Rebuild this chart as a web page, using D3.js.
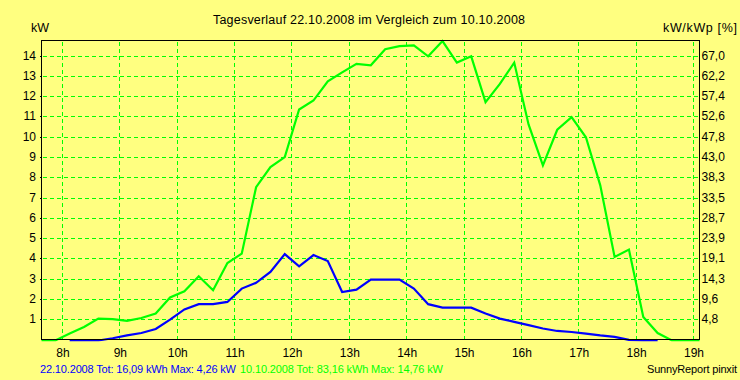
<!DOCTYPE html>
<html>
<head>
<meta charset="utf-8">
<script src="https://cdn.jsdelivr.net/npm/d3@7/dist/d3.min.js"></script>
<style>
  html, body { margin: 0; padding: 0; background: #ffff80; }
  svg { display: block; }
  text { font-family: "Liberation Sans", Arial, sans-serif; }
</style>
</head>
<body>
<script>
// ---- data ----
const times = [7.625, 7.875, 8.125, 8.375, 8.625, 8.875, 9.125, 9.375, 9.625, 9.875,
  10.125, 10.375, 10.625, 10.875, 11.125, 11.375, 11.625, 11.875, 12.125, 12.375,
  12.625, 12.875, 13.125, 13.375, 13.625, 13.875, 14.125, 14.375, 14.625, 14.875,
  15.125, 15.375, 15.625, 15.875, 16.125, 16.375, 16.625, 16.875, 17.125, 17.375,
  17.625, 17.875, 18.125, 18.375, 18.625, 18.875, 19.125];
const series1008 = [0, 0, 0.35, 0.67, 1.08, 1.05, 0.97, 1.11, 1.33, 2.12,
  2.43, 3.17, 2.48, 3.82, 4.28, 7.56, 8.55, 9.04, 11.39, 11.83,
  12.78, 13.22, 13.64, 13.57, 14.36, 14.51, 14.55, 14.01, 14.76, 13.70,
  14.01, 11.75, 12.65, 13.70, 10.65, 8.63, 10.39, 11.01, 10.02, 7.65,
  4.12, 4.48, 1.16, 0.37, 0, 0, 0];
const series2210 = [null, null, 0, 0, 0, 0.11, 0.25, 0.37, 0.57, 1.03,
  1.53, 1.79, 1.79, 1.90, 2.56, 2.84, 3.38, 4.26, 3.66, 4.21,
  3.92, 2.39, 2.51, 3.00, 3.00, 3.00, 2.56, 1.79, 1.62, 1.62,
  1.62, 1.33, 1.08, 0.92, 0.76, 0.59, 0.47, 0.42, 0.34, 0.25,
  0.18, 0.03, 0, 0, null, null, null];
const hourTicks = [8, 9, 10, 11, 12, 13, 14, 15, 16, 17, 18, 19];
const kwTicks = [1, 2, 3, 4, 5, 6, 7, 8, 9, 10, 11, 12, 13, 14];
const pctLabels = ["4,8", "9,6", "14,3", "19,1", "23,9", "28,7", "33,5", "38,3", "43,0",
  "47,8", "52,6", "57,4", "62,2", "67,0"];
const yMax = 14.79;
const titleText = "Tagesverlauf 22.10.2008 im Vergleich zum 10.10.2008";
const legendBlue = "22.10.2008 Tot: 16,09 kWh Max: 4,26 kW";
const legendGreen = "10.10.2008 Tot: 83,16 kWh Max: 14,76 kW";
const creditText = "SunnyReport pinxit";

// ---- layout ----
const W = 740, H = 380;
const L = 41.5, R = 699.5, T = 40.5, B = 339.5;
const GREEN = "#00ff00", BLUE = "#0000ff";

const svg = d3.select("body").append("svg").attr("width", W).attr("height", H);
svg.append("rect").attr("width", W).attr("height", H).attr("fill", "#ffff80");

const x = d3.scaleLinear().domain([7.634, 19.105]).range([L, R]);
const y = d3.scaleLinear().domain([0, yMax]).range([340.5, T]);

svg.append("clipPath").attr("id", "clip")
  .append("rect").attr("x", L).attr("y", T - 2).attr("width", R - L).attr("height", B - T + 4);

// grid
const grid = svg.append("g").attr("stroke", GREEN).attr("stroke-width", 1)
  .attr("stroke-dasharray", "4,3").attr("shape-rendering", "crispEdges");
grid.selectAll("line.h").data(kwTicks).join("line").attr("class", "h")
  .attr("x1", L + 1).attr("x2", R).attr("y1", d => Math.round(y(d)) - 0.5).attr("y2", d => Math.round(y(d)) - 0.5);
grid.selectAll("line.v").data(hourTicks).join("line").attr("class", "v")
  .attr("x1", d => Math.floor(x(d)) + 0.5).attr("x2", d => Math.floor(x(d)) + 0.5)
  .attr("y1", T + 1).attr("y2", B);

// lines
const line = d3.line()
  .defined(d => d[1] !== null)
  .x(d => x(d[0])).y(d => y(d[1]));
const plot = svg.append("g").attr("clip-path", "url(#clip)");
plot.append("path").datum(times.map((t, i) => [t, series1008[i]]))
  .attr("d", line).attr("fill", "none").attr("stroke", GREEN).attr("stroke-width", 2.2)
  .attr("stroke-linejoin", "miter");
plot.append("path").datum(times.map((t, i) => [t, series2210[i]]))
  .attr("d", line).attr("fill", "none").attr("stroke", BLUE).attr("stroke-width", 2.2)
  .attr("stroke-linejoin", "miter");

// frame
svg.append("rect").attr("x", L).attr("y", T).attr("width", R - L).attr("height", B - T)
  .attr("fill", "none").attr("stroke", "#000").attr("stroke-width", 1).attr("shape-rendering", "crispEdges");

// axes
const yTick = d => Math.round(y(d)) - 0.5;
const left = svg.append("g").attr("transform", `translate(${L},0)`)
  .call(d3.axisLeft(y).tickValues(kwTicks).tickSize(2).tickPadding(3.5).tickFormat(d3.format("d")));
const right = svg.append("g").attr("transform", `translate(${R},0)`)
  .call(d3.axisRight(y).tickValues(kwTicks).tickSize(0).tickPadding(2).tickFormat((d, i) => pctLabels[i]));
const bottom = svg.append("g").attr("transform", `translate(0,${B})`)
  .call(d3.axisBottom(x).tickValues(hourTicks).tickSize(0).tickPadding(9).tickFormat(d => d + "h"));
[left, right, bottom].forEach(g => {
  g.select(".domain").remove();
  g.selectAll("text").attr("font-size", 12).attr("fill", "#000")
    .attr("font-family", "'Liberation Sans', Arial, sans-serif");
  g.selectAll("line").attr("stroke", "#000").attr("shape-rendering", "crispEdges");
});
left.selectAll(".tick").attr("transform", d => `translate(0,${yTick(d)})`);
right.selectAll(".tick").attr("transform", d => `translate(0,${yTick(d)})`);

// titles
svg.append("text").attr("x", 213).attr("y", 24)
  .attr("font-size", 12.5).attr("textLength", 312).attr("lengthAdjust", "spacing").text(titleText);
svg.append("text").attr("x", 31).attr("y", 32).attr("font-size", 12.5)
  .attr("textLength", 18).attr("lengthAdjust", "spacing").text("kW");
svg.append("text").attr("x", 663).attr("y", 32)
  .attr("font-size", 12.5).attr("textLength", 74).attr("lengthAdjust", "spacing").text("kW/kWp [%]");

// legend
svg.append("text").attr("x", 40).attr("y", 373).attr("font-size", 11).attr("fill", BLUE)
  .attr("textLength", 196).attr("lengthAdjust", "spacing").text(legendBlue);
svg.append("text").attr("x", 240).attr("y", 373).attr("font-size", 11).attr("fill", GREEN)
  .attr("textLength", 203).attr("lengthAdjust", "spacing").text(legendGreen);
svg.append("text").attr("x", 647).attr("y", 373)
  .attr("font-size", 11).attr("fill", "#000")
  .attr("textLength", 90).attr("lengthAdjust", "spacing").text(creditText);
</script>
</body>
</html>
